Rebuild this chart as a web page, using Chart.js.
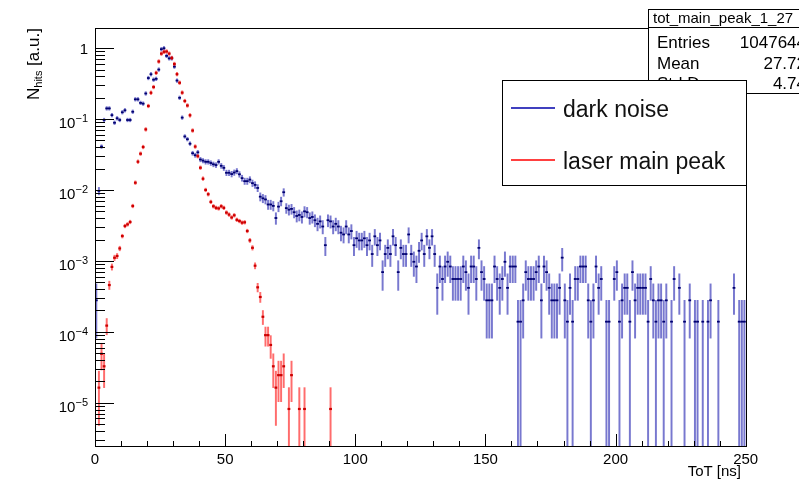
<!DOCTYPE html>
<html>
<head>
<meta charset="UTF-8">
<title>ToT main peak</title>
<script src="https://cdn.jsdelivr.net/npm/chart.js@4.4.0/dist/chart.umd.min.js"></script>
<style>
  html, body { margin: 0; padding: 0; background: #fff; }
  canvas { display: block; }
</style>
</head>
<body>
<canvas id="totChart" width="799" height="484"></canvas>
<script>
// histogram contents, 1 ns bins starting at 0 ns (raw counts)
const darkCounts = [
  2, 70, 295, 700, 1020, 1020, 820, 640, 740, 700,            // 0
  900, 960, 700, 700, 915, 1370, 1370, 1220, 1190, 1656,      // 10
  2736, 3096, 2592, 2664, 3600, 6984, 7200, 5616, 5184, 5184, // 20
  3960, 2520, 1440, 756, 410, 375, 324, 238, 223, 245,        // 30
  194, 187, 180, 180, 173, 166, 162, 180, 158, 148,           // 40
  126, 126, 121, 127, 133, 120, 106, 96, 96, 101,             // 50
  90, 85, 77, 58, 55, 53, 45, 45, 43, 29,                     // 60
  42, 50, 67, 40, 38, 39, 35, 31, 32, 30,                     // 70
  36, 35, 29, 30, 27, 24, 26, 22, 12, 27,                     // 80
  26, 22, 24, 22, 18, 17, 22, 17, 19, 12,                     // 90
  15, 14, 14, 15, 12, 14, 9, 16, 12, 14,                      // 100
  5, 9, 11, 9, 16, 12, 5, 11, 9, 9,                           // 110
  17, 9, 7, 6, 10, 14, 9, 16, 11, 16,                         // 120
  9, 3, 6, 4, 6, 7, 6, 4, 4, 4,                               // 130
  4, 6, 5, 3, 6, 6, 4, 11, 5, 4,                              // 140
  2, 2, 2, 6, 4, 3, 4, 7, 3, 6,                               // 150
  6, 6, 1, 1, 2, 5, 4, 4, 4, 5,                               // 160
  6, 2, 6, 5, 3, 2, 2, 2, 3, 8,                               // 170
  2, 1, 3, 1, 4, 4, 6, 6, 6, 2,                               // 180
  1, 2, 6, 3, 4, 0, 1, 1, 0, 4,                               // 190
  5, 1, 2, 3, 3, 1, 5, 2, 3, 3,                               // 200
  3, 3, 1, 4, 2, 1, 2, 2, 1, 2,                               // 210
  0, 1, 4, 0, 3, 0, 1, 0, 2, 0,                               // 220
  1, 1, 0, 1, 0, 1, 2, 0, 0, 1,                               // 230
  0, 0, 0, 0, 0, 3, 0, 1, 1, 1                                // 240
];
const laserCounts = [
  0, 2, 6, 4, 15, 56, 101, 136, 144, 184,                               // 0
  275, 381, 402, 434, 730, 1556, 3078, 3990, 4960, 8790,                // 10
  18800, 28900, 34800, 55200, 79800, 103000, 109200, 110400, 103000, 89600, // 20
  73600, 52800, 40000, 29000, 22100, 19100, 13900, 8470, 5030, 3680,    // 30
  2530, 1770, 1230, 1070, 834, 724, 687, 675, 724, 687,                 // 40
  589, 552, 503, 540, 466, 448, 425, 430, 324, 239,                     // 50
  188, 105, 52, 38, 20, 11, 11, 8, 4, 2,                                // 60
  3, 3, 4, 0, 1, 3, 0, 0, 1, 0,                                         // 70
  1, 0, 0, 0, 0, 0, 0, 0, 0, 0,                                         // 80
  1                                                                     // 90
];
// value of one entry after normalisation
const darkNorm = 1.389e-4;
const laserNorm = 8.15e-6;

const seriesLabels = ['dark noise', 'laser main peak'];
const yDecades = [0, -1, -2, -3, -4, -5];
const xTickValues = [0, 10, 20, 30, 40, 50, 60, 70, 80, 90, 100, 110, 120, 130, 140,
  150, 160, 170, 180, 190, 200, 210, 220, 230, 240, 250];
const xLabels = [0, 50, 100, 150, 200, 250];
const statsRows = [['Entries', '1047644'], ['Mean', '27.72'], ['Std Dev', '4.74']];
const histName = 'tot_main_peak_1_27';

const Y_MIN = 2.37e-6, Y_MAX = 1.93;
const FONT = '"Liberation Sans", Arial, Helvetica, sans-serif';

function markers(counts, norm) {
  const pts = [];
  counts.forEach((n, i) => { if (n > 0) pts.push({ x: i + 0.5, y: n * norm }); });
  return pts;
}
// poisson error bars, floor them to a small "+" size
function errorBars(counts, norm) {
  const pts = [];
  counts.forEach((n, i) => {
    if (n <= 0) return;
    const v = n * norm, e = Math.sqrt(n) * norm;
    let lo = v - e, hi = v + e;
    if (lo <= Y_MIN) lo = Y_MIN * 0.5;
    lo = Math.min(lo, v / 1.06);
    hi = Math.max(hi, v * 1.06);
    pts.push({ x: i + 0.5, y: [lo, hi] });
  });
  return pts;
}

const blueDark = '#000070';
const blueBar = 'rgba(30, 30, 175, 0.6)';
const redDark = '#cc0000';
const redBar = 'rgba(255, 10, 10, 0.6)';

// frame, ticks, labels, stats and legend (ROOT look)
const rootDecor = {
  id: 'rootDecor',
  afterDatasetsDraw(chart) {
    const { ctx, chartArea: a, scales: { x, y } } = chart;
    ctx.save();
    ctx.strokeStyle = '#000';
    ctx.lineWidth = 1;
    ctx.strokeRect(Math.round(a.left) + 0.5, Math.round(a.top) + 0.5,
      Math.round(a.right - a.left) - 1, Math.round(a.bottom - a.top) - 1);

    // x ticks, inside the frame
    ctx.beginPath();
    xTickValues.forEach(v => {
      const px = Math.round(x.getPixelForValue(v)) + 0.5;
      const len = v % 50 === 0 ? 13 : 6;
      ctx.moveTo(px, a.bottom);
      ctx.lineTo(px, a.bottom - len);
    });
    // y ticks
    for (let d = -6; d <= 0; d++) {
      for (let m = 1; m <= 9; m++) {
        const v = m * Math.pow(10, d);
        if (v < Y_MIN || v > Y_MAX) continue;
        const py = Math.round(y.getPixelForValue(v)) + 0.5;
        const len = m === 1 ? 19 : 10;
        ctx.moveTo(a.left, py);
        ctx.lineTo(a.left + len, py);
      }
    }
    ctx.stroke();

    // y tick labels with superscript exponent
    ctx.fillStyle = '#000';
    yDecades.forEach(d => {
      const py = y.getPixelForValue(Math.pow(10, d));
      const right = a.left - 7;
      ctx.textAlign = 'right';
      ctx.textBaseline = 'alphabetic';
      if (d === 0) {
        ctx.font = '15px ' + FONT;
        ctx.fillText('1', right, py + 6);
      } else {
        ctx.font = '11px ' + FONT;
        const ex = '\u2212' + (-d);
        const we = ctx.measureText(ex).width;
        ctx.fillText(ex, right, py + 3);
        ctx.font = '15px ' + FONT;
        ctx.fillText('10', right - we, py + 9);
      }
    });

    // axis titles
    ctx.textAlign = 'right';
    ctx.font = '15px ' + FONT;
    ctx.fillText('ToT [ns]', 741, 476);

    ctx.translate(38.5, 100);
    ctx.rotate(-Math.PI / 2);
    ctx.textAlign = 'left';
    ctx.font = '17px ' + FONT;
    ctx.fillText('N', 0, 0);
    let w = ctx.measureText('N').width;
    ctx.font = '11px ' + FONT;
    ctx.fillText('hits', w, 3.5);
    w += ctx.measureText('hits').width;
    ctx.font = '17px ' + FONT;
    ctx.fillText(' [a.u.]', w, 0);
    ctx.restore();
  },
  afterDraw(chart) {
    const { ctx } = chart;
    ctx.save();
    ctx.lineWidth = 1;
    ctx.strokeStyle = '#000';
    ctx.fillStyle = '#000';

    // statistics box (runs past the canvas edge)
    ctx.fillStyle = '#fff';
    ctx.fillRect(648.5, 9.5, 170, 84);
    ctx.fillStyle = '#000';
    ctx.strokeRect(648.5, 9.5, 170, 84);
    ctx.beginPath();
    ctx.moveTo(648.5, 27.5); ctx.lineTo(820, 27.5);
    ctx.stroke();
    ctx.font = '15px ' + FONT;
    ctx.textAlign = 'left';
    ctx.fillText(histName, 653, 23);
    ctx.font = '17px ' + FONT;
    statsRows.forEach((r, i) => {
      const by = 48 + i * 20.5;
      ctx.textAlign = 'left';
      ctx.fillText(r[0], 657, by);
      ctx.textAlign = 'right';
      ctx.fillText(r[1], 806, by);
    });

    // legend
    ctx.fillStyle = '#fff';
    ctx.fillRect(502.5, 80.5, 244, 105);
    ctx.strokeStyle = '#000';
    ctx.strokeRect(502.5, 80.5, 244, 105);
    const cols = ['#0000aa', '#ff0000'];
    const rowsY = [108, 160];
    ctx.font = '23px ' + FONT;
    ctx.textAlign = 'left';
    ctx.lineWidth = 1.4;
    seriesLabels.forEach((lab, i) => {
      ctx.strokeStyle = cols[i];
      ctx.beginPath();
      ctx.moveTo(511, rowsY[i]); ctx.lineTo(555, rowsY[i]);
      ctx.stroke();
      ctx.fillStyle = '#111';
      ctx.fillText(lab, 563, rowsY[i] + 8.5);
    });
    ctx.restore();
  }
};

new Chart(document.getElementById('totChart'), {
  type: 'scatter',
  data: {
    datasets: [
      {
        type: 'bar', label: seriesLabels[0] + ' err',
        data: errorBars(darkCounts, darkNorm),
        backgroundColor: blueBar, barThickness: 1.3, grouped: false, order: 4, clip: 0
      },
      {
        label: seriesLabels[0],
        data: markers(darkCounts, darkNorm),
        pointStyle: 'line', pointRadius: 1.4, pointBorderWidth: 1.8,
        pointBorderColor: blueDark, order: 3, clip: 0
      },
      {
        type: 'bar', label: seriesLabels[1] + ' err',
        data: errorBars(laserCounts, laserNorm),
        backgroundColor: redBar, barThickness: 1.3, grouped: false, order: 2, clip: 0
      },
      {
        label: seriesLabels[1],
        data: markers(laserCounts, laserNorm),
        pointStyle: 'line', pointRadius: 1.4, pointBorderWidth: 2.2,
        pointBorderColor: redDark, order: 1, clip: 0
      }
    ]
  },
  options: {
    responsive: false,
    animation: false,
    devicePixelRatio: 1,
    events: [],
    layout: { padding: { left: 0, top: 28, right: 52, bottom: 0 } },
    plugins: { legend: { display: false }, tooltip: { enabled: false } },
    scales: {
      x: {
        type: 'linear', min: 0, max: 250.5, offset: false,
        grid: { display: false, drawTicks: false },
        border: { display: false },
        afterBuildTicks: s => { s.ticks = xTickValues.map(v => ({ value: v })); },
        ticks: {
          autoSkip: false, maxRotation: 0, padding: 4,
          color: '#000', font: { family: FONT, size: 15 },
          callback: v => xLabels.includes(v) ? String(v) : ''
        },
        afterFit: s => { s.height = 37; }
      },
      y: {
        type: 'logarithmic', min: Y_MIN, max: Y_MAX,
        grid: { display: false, drawTicks: false },
        border: { display: false },
        ticks: { display: false },
        afterFit: s => { s.width = 95; }
      }
    }
  },
  plugins: [rootDecor]
});
</script>
</body>
</html>
